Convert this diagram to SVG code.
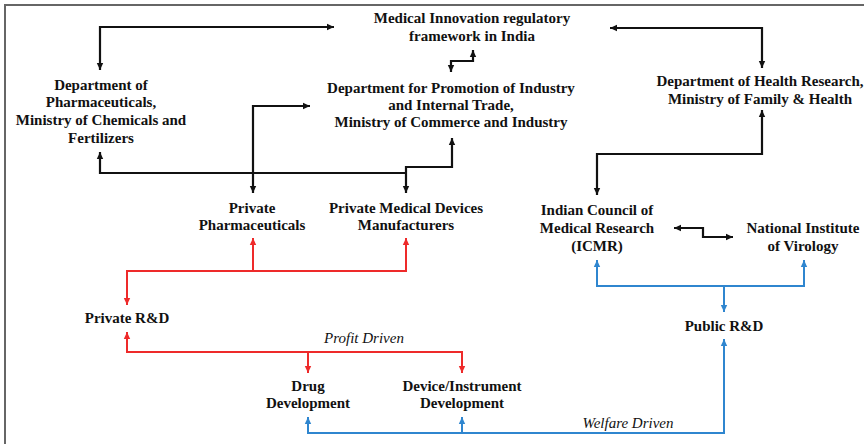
<svg xmlns="http://www.w3.org/2000/svg" width="865" height="444" viewBox="0 0 865 444">
  <style>
    .t { font-family: "Liberation Serif", "Times New Roman", serif; font-weight: bold; font-size: 15px; fill: #111; text-anchor: middle; }
    .i { font-family: "Liberation Serif", "Times New Roman", serif; font-style: italic; font-size: 15px; fill: #111; text-anchor: middle; }
    .k { fill: none; stroke: #111; stroke-width: 2.2; }
    .r { fill: none; stroke: #ee2a2a; stroke-width: 2; }
    .b { fill: none; stroke: #2f86cf; stroke-width: 2; }
    .frame { fill: none; stroke: #666; stroke-width: 2; }
  </style>
  <defs>
    <marker id="ak" markerUnits="userSpaceOnUse" markerWidth="8" markerHeight="8" refX="7" refY="4" orient="auto-start-reverse">
      <path d="M0,0.8 L7,4 L0,7.2 Z" fill="#111"/>
    </marker>
    <marker id="ar" markerUnits="userSpaceOnUse" markerWidth="8" markerHeight="8" refX="7" refY="4" orient="auto-start-reverse">
      <path d="M0,0.8 L7,4 L0,7.2 Z" fill="#ee2a2a"/>
    </marker>
    <marker id="ab" markerUnits="userSpaceOnUse" markerWidth="8" markerHeight="8" refX="7" refY="4" orient="auto-start-reverse">
      <path d="M0,0.8 L7,4 L0,7.2 Z" fill="#2f86cf"/>
    </marker>
  </defs>

  <rect width="865" height="444" fill="#fff"/>
  <path class="frame" d="M5,444 V5 H864"/>

  <g id="connectors">
    <!-- regulatory framework to the ministries -->
    <path class="k" d="M100,70 V27 H334" marker-start="url(#ak)" marker-end="url(#ak)"/>
    <path class="k" d="M610,28 H762 V68" marker-start="url(#ak)" marker-end="url(#ak)"/>
    <path class="k" d="M473,50 V61 H451 V72" marker-start="url(#ak)" marker-end="url(#ak)"/>
    <!-- ministries to private industry -->
    <path class="k" d="M253,193 V106 H310" marker-start="url(#ak)" marker-end="url(#ak)"/>
    <path class="k" d="M100,152 V173 H406"  marker-start="url(#ak)"/>
    <path class="k" d="M406,193 V167 H452 V138" marker-start="url(#ak)" marker-end="url(#ak)"/>
    <!-- health research to ICMR -->
    <path class="k" d="M762,110 V154 H597 V195" marker-start="url(#ak)" marker-end="url(#ak)"/>
    <path class="k" d="M674,228 H703 V237 H733" marker-start="url(#ak)" marker-end="url(#ak)"/>

    <!-- private R&D -->
    <path class="r" d="M253,238 V271" marker-start="url(#ar)"/>
    <path class="r" d="M406,238 V271 H127 V305" marker-start="url(#ar)" marker-end="url(#ar)"/>
    <path class="r" d="M127,332 V352 H462 V373" marker-start="url(#ar)" marker-end="url(#ar)"/>
    <path class="r" d="M308,352 V373" marker-end="url(#ar)"/>

    <!-- public R&D -->
    <path class="b" d="M597,260 V286 H804 V260" marker-start="url(#ab)" marker-end="url(#ab)"/>
    <path class="b" d="M724,286 V312" marker-end="url(#ab)"/>
    <path class="b" d="M308,417 V433 H724 V339" marker-start="url(#ab)" marker-end="url(#ab)"/>
    <path class="b" d="M462,433 V417" marker-end="url(#ab)"/>
  </g>

  <g id="framework">
    <text class="t" x="472" y="23">Medical Innovation regulatory</text>
    <text class="t" x="472" y="41">framework in India</text>
  </g>
  <g id="dop">
    <text class="t" x="101" y="90">Department of</text>
    <text class="t" x="101" y="107">Pharmaceuticals,</text>
    <text class="t" x="101" y="125">Ministry of Chemicals and</text>
    <text class="t" x="101" y="143">Fertilizers</text>
  </g>
  <g id="dpiit">
    <text class="t" x="451" y="93">Department for Promotion of Industry</text>
    <text class="t" x="451" y="110">and Internal Trade,</text>
    <text class="t" x="451" y="127">Ministry of Commerce and Industry</text>
  </g>
  <g id="dhr">
    <text class="t" x="760" y="86">Department of Health Research,</text>
    <text class="t" x="760" y="104">Ministry of Family &amp; Health</text>
  </g>
  <g id="private-pharma">
    <text class="t" x="252" y="213">Private</text>
    <text class="t" x="252" y="230">Pharmaceuticals</text>
  </g>
  <g id="private-devices">
    <text class="t" x="406" y="213">Private Medical Devices</text>
    <text class="t" x="406" y="230">Manufacturers</text>
  </g>
  <g id="icmr">
    <text class="t" x="597" y="215">Indian Council of</text>
    <text class="t" x="597" y="233">Medical Research</text>
    <text class="t" x="597" y="251">(ICMR)</text>
  </g>
  <g id="niv">
    <text class="t" x="803" y="233">National Institute</text>
    <text class="t" x="803" y="251">of Virology</text>
  </g>
  <g id="private-rd">
    <text class="t" x="127" y="323">Private R&amp;D</text>
  </g>
  <g id="public-rd">
    <text class="t" x="724" y="331">Public R&amp;D</text>
  </g>
  <g id="drug-dev">
    <text class="t" x="308" y="391">Drug</text>
    <text class="t" x="308" y="408">Development</text>
  </g>
  <g id="device-dev">
    <text class="t" x="462" y="391">Device/Instrument</text>
    <text class="t" x="462" y="408">Development</text>
  </g>
  <g id="labels">
    <text class="i" x="364" y="343">Profit Driven</text>
    <text class="i" x="628" y="428">Welfare Driven</text>
  </g>
</svg>
